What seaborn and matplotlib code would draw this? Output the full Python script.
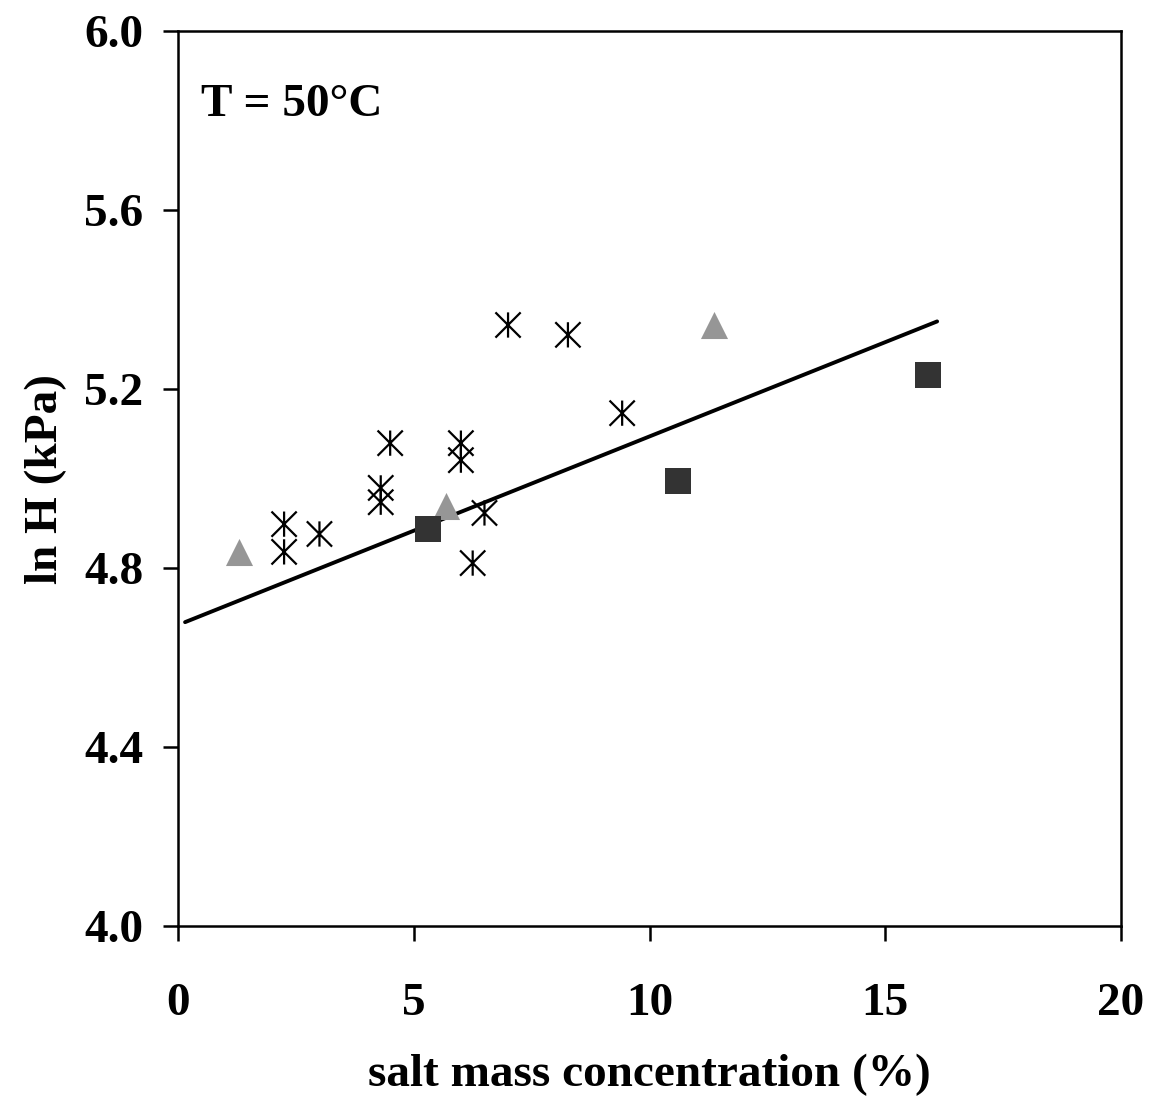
import numpy as np
import pandas as pd
import matplotlib
matplotlib.use("Agg")
import matplotlib.pyplot as plt
from matplotlib.path import Path
import seaborn as sns

# --- data ---
star_x = [2.25, 2.25, 3.0, 4.3, 4.3, 4.5, 6.0, 6.0, 6.5, 6.25, 7.0, 8.27, 9.42]
star_y = [4.898, 4.836, 4.876, 4.979, 4.947, 5.079, 5.079, 5.041, 4.923, 4.811, 5.343, 5.321, 5.146]
tri_x = [1.3, 5.68, 11.37]
tri_y = [4.836, 4.938, 5.343]
sq_x = [5.3, 10.6, 15.9]
sq_y = [4.887, 4.994, 5.231]
fit_x = [0.15, 16.1]
fit_y = [4.679, 5.351]
x_ticks = [0, 5, 10, 15, 20]
y_ticks = [4.0, 4.4, 4.8, 5.2, 5.6, 6.0]
y_tick_labels = ["4.0", "4.4", "4.8", "5.2", "5.6", "6.0"]

sns.set_style("ticks")
plt.rcParams['font.family'] = ['Liberation Serif', 'DejaVu Serif']
plt.rcParams['font.weight'] = 'bold'
plt.rcParams['text.color'] = 'black'
plt.rcParams['axes.labelcolor'] = 'black'
plt.rcParams['xtick.color'] = 'black'
plt.rcParams['ytick.color'] = 'black'

fig = plt.figure(figsize=(11.51, 10.99), dpi=100)
ax = fig.add_axes([178/1151, 1-926/1099, (1121-178)/1151, (926-31)/1099])

# asterisk marker: vertical line + two diagonals
star = Path([(0, -1), (0, 1), (-1, -1), (1, 1), (-1, 1), (1, -1)],
            [Path.MOVETO, Path.LINETO, Path.MOVETO, Path.LINETO, Path.MOVETO, Path.LINETO])

df_fit = pd.DataFrame({"x": fit_x, "y": fit_y})
sns.lineplot(data=df_fit, x="x", y="y", ax=ax, color="black", linewidth=2.8, zorder=2)

df_star = pd.DataFrame({"x": star_x, "y": star_y})
sns.scatterplot(data=df_star, x="x", y="y", ax=ax, marker=star, s=330,
                facecolor="none", edgecolor="black", linewidth=1.6, zorder=3)

df_tri = pd.DataFrame({"x": tri_x, "y": tri_y})
sns.scatterplot(data=df_tri, x="x", y="y", ax=ax, marker="^", s=380,
                color="#969696", linewidth=0, zorder=3)

df_sq = pd.DataFrame({"x": sq_x, "y": sq_y})
sns.scatterplot(data=df_sq, x="x", y="y", ax=ax, marker="s", s=330,
                color="#333333", linewidth=0, zorder=4)

ax.set_xlim(0, 20)
ax.set_ylim(4.0, 6.0)
ax.set_xticks(x_ticks)
ax.set_xticklabels([str(t) for t in x_ticks])
ax.set_yticks(y_ticks)
ax.set_yticklabels(y_tick_labels)

for s in ax.spines.values():
    s.set_visible(True)
    s.set_linewidth(1.8)
    s.set_color("black")

ax.tick_params(axis="both", direction="out", length=11, width=1.8, labelsize=34,
               color="black", labelcolor="black")
ax.tick_params(axis="x", pad=30)
ax.tick_params(axis="y", pad=14)
for lab in ax.get_xticklabels() + ax.get_yticklabels():
    lab.set_fontweight("bold")

ax.set_xlabel("salt mass concentration (%)", fontsize=34, fontweight="bold", labelpad=21,
              color="black")
ax.set_ylabel("ln H (kPa)", fontsize=34, fontweight="bold", labelpad=12, color="black")

ax.text(0.024, 0.917, "T = 50°C", transform=ax.transAxes, fontsize=34, fontweight="bold",
        ha="left", va="center", color="black")

fig.savefig("out.png", dpi=100, facecolor="white")
